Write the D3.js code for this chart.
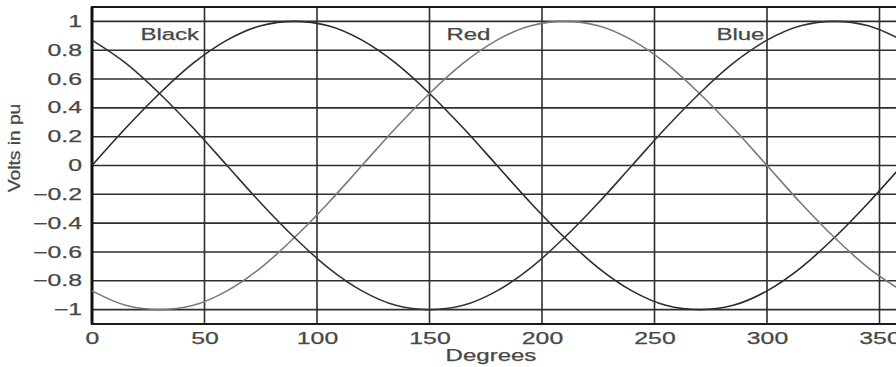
<!DOCTYPE html>
<html>
<head>
<meta charset="utf-8">
<script src="https://cdn.jsdelivr.net/npm/d3@7"></script>
<style>
  html, body { margin: 0; padding: 0; overflow: hidden; background: #fff; }
</style>
</head>
<body>
<div id="screen"></div>
<script>
// Angles (degrees) and voltages (pu)
const degrees = [0, 15, 30, 45, 60, 75, 90, 105, 120, 135, 150, 165, 180,
  195, 210, 225, 240, 255, 270, 285, 300, 315, 330, 345, 360]
const blackVolts = [0, 0.26, 0.5, 0.71, 0.87, 0.97, 1, 0.97, 0.87, 0.71, 0.5, 0.26, 0,
  -0.26, -0.5, -0.71, -0.87, -0.97, -1, -0.97, -0.87, -0.71, -0.5, -0.26, 0]
const redVolts = [-0.87, -0.97, -1, -0.97, -0.87, -0.71, -0.5, -0.26, 0, 0.26, 0.5, 0.71, 0.87,
  0.97, 1, 0.97, 0.87, 0.71, 0.5, 0.26, 0, -0.26, -0.5, -0.71, -0.87]
const blueVolts = [0.87, 0.71, 0.5, 0.26, 0, -0.26, -0.5, -0.71, -0.87, -0.97, -1, -0.97, -0.87,
  -0.71, -0.5, -0.26, 0, 0.26, 0.5, 0.71, 0.87, 0.97, 1, 0.97, 0.87]
const phaseNames = ['Black', 'Red', 'Blue']
const xTicks = [0, 50, 100, 150, 200, 250, 300, 350]
const yTicks = [-1, -0.8, -0.6, -0.4, -0.2, 0, 0.2, 0.4, 0.6, 0.8, 1]

const width = 910
const height = 367
const margin = { top: 7, right: 8, bottom: 43, left: 92 }
const font = "'Liberation Sans', Arial, sans-serif"
const textColor = '#474747'
const gridColor = '#2e2e2e'

const svg = d3.select('#screen').append('svg')
  .attr('width', width)
  .attr('height', height)

const x = d3.scaleLinear()
  .domain([0, 360])
  .range([margin.left, width - margin.right])

const y = d3.scaleLinear()
  .domain([-1.1, 1.1])
  .range([height - margin.bottom, margin.top])

// the source glyphs are much wider (and a bit heavier) than Arial, so stretch each text
function widen (sel, k) {
  sel.attr('stroke', textColor).attr('stroke-width', 0.25)
  sel.each(function () {
    const w = this.getComputedTextLength()
    d3.select(this).attr('textLength', w * k).attr('lengthAdjust', 'spacingAndGlyphs')
  })
}

// grid
svg.append('g')
  .selectAll('line')
  .data(yTicks)
  .join('line')
  .attr('x1', x(0)).attr('x2', x(360))
  .attr('y1', d => y(d)).attr('y2', d => y(d))
  .attr('stroke', gridColor)
  .attr('stroke-width', 1.6)

svg.append('g')
  .selectAll('line')
  .data(xTicks.filter(d => d > 0))
  .join('line')
  .attr('x1', d => x(d)).attr('x2', d => x(d))
  .attr('y1', y(1.1)).attr('y2', y(-1.1))
  .attr('stroke', gridColor)
  .attr('stroke-width', 1.6)

// frame
svg.append('rect')
  .attr('x', x(0)).attr('y', y(1.1))
  .attr('width', x(360) - x(0))
  .attr('height', y(-1.1) - y(1.1))
  .attr('fill', 'none')
  .attr('stroke', '#1a1a1a')
  .attr('stroke-width', 2)

svg.append('line')
  .attr('x1', x(0)).attr('x2', x(0))
  .attr('y1', y(1.1)).attr('y2', y(-1.1))
  .attr('stroke', '#111')
  .attr('stroke-width', 3)

// axes
const xAxis = svg.append('g')
  .attr('transform', `translate(0,${y(-1.1)})`)
  .call(d3.axisBottom(x).tickValues(xTicks).tickSize(0).tickPadding(9))
xAxis.select('.domain').remove()
xAxis.selectAll('text')
  .attr('font-family', font)
  .attr('font-size', '16px')
  .attr('fill', textColor)
  .call(widen, 1.55)

const yAxis = svg.append('g')
  .attr('transform', `translate(${x(0)},0)`)
  .call(d3.axisLeft(y).tickValues(yTicks).tickSize(0).tickPadding(10)
    .tickFormat(d => d3.format('')(d).replace('-', '\u2013')))
yAxis.select('.domain').remove()
yAxis.selectAll('text')
  .attr('font-family', font)
  .attr('font-size', '16px')
  .attr('fill', textColor)
  .call(widen, 1.55)

// curves
const line = d3.line()
  .x(d => x(d[0]))
  .y(d => y(d[1]))
  .curve(d3.curveMonotoneX)

const series = [
  { name: 'Black', values: blackVolts, color: '#2b2b2b' },
  { name: 'Red', values: redVolts, color: '#7a7a7a' },
  { name: 'Blue', values: blueVolts, color: '#333333' }
]

svg.append('g')
  .selectAll('path')
  .data(series)
  .join('path')
  .attr('d', s => line(degrees.map((d, i) => [d, s.values[i]])))
  .attr('fill', 'none')
  .attr('stroke', s => s.color)
  .attr('stroke-width', 1.6)

// phase names
const labelAt = [21.5, 157.5, 277.5]
svg.append('g')
  .selectAll('text')
  .data(phaseNames)
  .join('text')
  .attr('x', (d, i) => x(labelAt[i]))
  .attr('y', y(0.87))
  .attr('font-family', font)
  .attr('font-size', '16px')
  .attr('fill', textColor)
  .text(d => d)
  .call(widen, 1.5)

// axis titles
svg.append('text')
  .attr('x', 491)
  .attr('y', 361)
  .attr('text-anchor', 'middle')
  .attr('font-family', font)
  .attr('font-size', '16px')
  .attr('fill', textColor)
  .text('Degrees')
  .call(widen, 1.5)

svg.append('text')
  .attr('transform', 'translate(20,148) rotate(-90)')
  .attr('text-anchor', 'middle')
  .attr('font-family', font)
  .attr('font-size', '16px')
  .attr('fill', textColor)
  .text('Volts in pu')
  .call(widen, 1.2)
</script>
</body>
</html>
